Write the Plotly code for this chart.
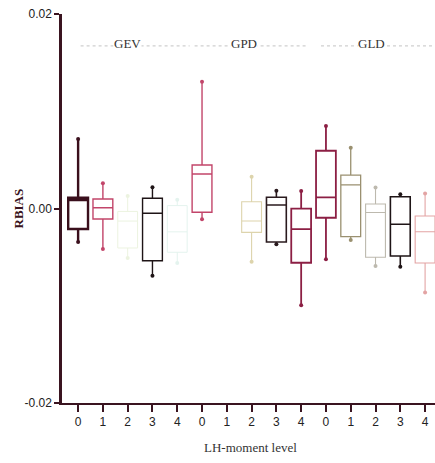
import plotly.graph_objects as go

groups = ["GEV", "GPD", "GLD"]
levels = ["0", "1", "2", "3", "4"]

# per box (group, level) statistics; None = not visible in the figure
upper = [0.00715, 0.00259, 0.00129, 0.00218, 0.00090,
         0.01304, None, 0.00327, 0.00183, 0.00180,
         0.00848, 0.00625, 0.00216, 0.00146, 0.00154]
q3 = [0.00111, 0.00098, -0.00030, 0.00105, 0.00030,
      0.00447, None, 0.00070, 0.00115, -0.00002,
      0.00594, 0.00344, 0.00046, 0.00121, -0.00077]
median = [0.00087, 0.00008, -0.00129, -0.00049, -0.00240,
          0.00355, None, -0.00129, 0.00036, -0.00213,
          0.00115, 0.00242, -0.00041, -0.00162, -0.00239]
q1 = [-0.00211, -0.00108, -0.00406, -0.00537, -0.00450,
      -0.00039, None, -0.00245, -0.00344, -0.00558,
      -0.00095, -0.00290, -0.00501, -0.00488, -0.00560]
lower = [-0.00344, -0.00416, -0.00509, -0.00691, -0.00560,
         -0.00111, None, -0.00547, -0.00368, -0.00995,
         -0.00522, -0.00324, -0.00591, -0.00598, -0.00864]
mean = [0.00057, -0.00026, None, -0.00180, None,
        0.00344, None, None, -0.00084, -0.00306,
        0.00154, None, -0.00187, -0.00187, None]

colors = ["#3a0f1c", "#c2456a", "#ecf3e0", "#1e1416", "#e4f3ee",
          "#c2456a", "#ffffff", "#ddd4ac", "#2a1a1e", "#8c1f44",
          "#8c1f44", "#9a9070", "#bdb9ae", "#1e1416", "#e3a4a4"]
widths = [2.4, 1.4, 1.0, 1.4, 1.0,
          1.4, 1.0, 1.1, 1.6, 1.8,
          1.8, 1.3, 1.1, 1.6, 1.1]

fig = go.Figure()
n = len(groups) * len(levels)
for i in range(n):
    if upper[i] is None:
        continue
    c = colors[i]
    fig.add_trace(go.Box(
        x=[i], q1=[q1[i]], median=[median[i]], q3=[q3[i]],
        lowerfence=[lower[i]], upperfence=[upper[i]],
        width=0.8, whiskerwidth=0,
        line=dict(color=c, width=widths[i]),
        fillcolor="rgba(255,255,255,0)",
        boxpoints=False, showlegend=False, hoverinfo="skip"))
    fig.add_trace(go.Scatter(
        x=[i, i], y=[upper[i], lower[i]], mode="markers",
        marker=dict(color=c, size=4, symbol="circle"),
        showlegend=False, hoverinfo="skip"))
    if mean[i] is not None:
        fig.add_trace(go.Scatter(
            x=[i], y=[mean[i]], mode="markers",
            marker=dict(color="rgba(0,0,0,0)", size=5, symbol="square-open",
                        line=dict(color=c, width=1)),
            showlegend=False, hoverinfo="skip"))

axis_color = "#3a1420"
fig.update_layout(
    width=435, height=463,
    margin=dict(l=62, r=0, t=14, b=60),
    plot_bgcolor="white", paper_bgcolor="white",
    boxmode="overlay",
    xaxis=dict(
        range=[-0.65, 14.4],
        tickvals=list(range(n)),
        ticktext=[lv for g in groups for lv in levels],
        showline=True, linewidth=2, linecolor=axis_color,
        ticks="outside", ticklen=7, tickwidth=2, tickcolor=axis_color,
        showgrid=False, zeroline=False,
        tickfont=dict(family="Liberation Sans", size=12, color="#222"),
    ),
    yaxis=dict(
        range=[-0.02, 0.02],
        tickvals=[-0.02, 0.0, 0.02],
        ticktext=["-0.02", "0.00", "0.02"],
        showline=True, linewidth=2.5, linecolor=axis_color,
        ticks="outside", ticklen=5, tickwidth=1.5, tickcolor=axis_color,
        showgrid=False, zeroline=False,
        tickfont=dict(family="Liberation Sans", size=12, color="#222"),
    ),
    font=dict(family="Liberation Serif"),
)

# group labels with dotted guide lines
spans = [(0.1, 4.5), (4.7, 9.2), (9.8, 14.4)]
centers = [2.0, 6.7, 11.85]
for g, (a, b), cx in zip(groups, spans, centers):
    fig.add_shape(type="line", xref="x", yref="paper", x0=a, x1=b, y0=0.918, y1=0.918,
                  line=dict(color="#d0d0d0", width=1.2, dash="dot"))
    fig.add_annotation(x=cx, xref="x", y=0.923, yref="paper", text=g, showarrow=False,
                       xanchor="center", yanchor="middle",
                       font=dict(family="Liberation Serif", size=13, color="#333"),
                       bgcolor="white", borderpad=0)

fig.add_annotation(x=0, xref="paper", y=0.5, yref="paper", xshift=-44, text="<b>RBIAS</b>",
                   textangle=-90, showarrow=False, xanchor="center", yanchor="middle",
                   font=dict(family="Liberation Serif", size=13, color="#3a1420"))
fig.add_annotation(x=(250 - 62) / (435 - 62), xref="paper", y=0, yref="paper", yshift=-44,
                   text="LH-moment level", showarrow=False, xanchor="center", yanchor="middle",
                   font=dict(family="Liberation Serif", size=13, color="#333"))

fig.write_html("out.html")
